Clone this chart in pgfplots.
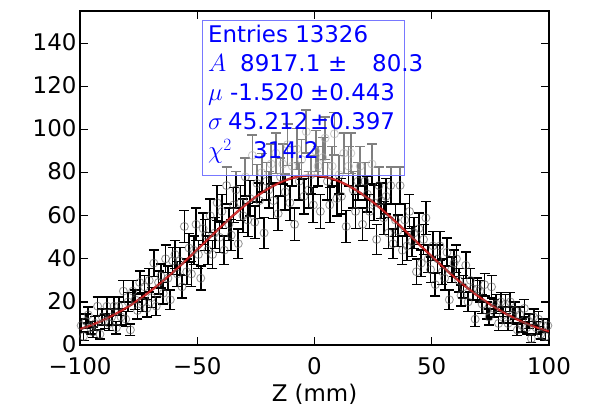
\documentclass[border=0pt]{standalone}
\usepackage{pgfplots}
\pgfplotsset{compat=1.18}
\usepackage{fontspec}
\setmainfont{DejaVu Sans}
\definecolor{boxblue}{RGB}{120,120,255}
\definecolor{txtblue}{RGB}{0,0,255}
\definecolor{fitred}{RGB}{170,0,0}
\definecolor{mkgrey}{RGB}{90,90,90}
\pgfplotstableread{
x y e
-99.5 9 3.00
-98.5 4 2.00
-97.5 11 3.32
-96.5 14 3.74
-95.5 8 2.83
-94.5 6 2.45
-93.5 10 3.16
-92.5 18 4.24
-91.5 5 2.24
-90.5 13 3.61
-89.5 11 3.32
-88.5 18 4.24
-87.5 10 3.16
-86.5 13 3.61
-85.5 18 4.24
-84.5 8 2.83
-83.5 18 4.24
-82.5 13 3.61
-81.5 25 5.00
-80.5 12 3.46
-79.5 20 4.47
-78.5 7 2.65
-77.5 25 5.00
-76.5 21 4.58
-75.5 16 4.00
-74.5 29 5.39
-73.5 20 4.47
-72.5 27 5.20
-71.5 17 4.12
-70.5 30 5.48
-69.5 22 4.69
-68.5 38 6.16
-67.5 18 4.24
-66.5 29 5.39
-65.5 32 5.66
-64.5 24 4.90
-63.5 40 6.32
-62.5 31 5.57
-61.5 21 4.58
-60.5 39 6.24
-59.5 42 6.48
-58.5 33 5.74
-57.5 39 6.24
-56.5 27 5.20
-55.5 55 7.42
-54.5 34 5.83
-53.5 45 6.71
-52.5 33 5.74
-51.5 44 6.63
-50.5 56 7.48
-49.5 42 6.48
-48.5 31 5.57
-47.5 54 7.35
-46.5 51 7.14
-45.5 44 6.63
-44.5 60 7.75
-43.5 42 6.48
-42.5 52 7.21
-41.5 66 8.12
-40.5 50 7.07
-39.5 62 7.87
-38.5 44 6.63
-37.5 74 8.60
-36.5 56 7.48
-35.5 51 7.14
-34.5 65 8.06
-33.5 72 8.49
-32.5 47 6.86
-31.5 66 8.12
-30.5 60 7.75
-29.5 78 8.83
-28.5 58 7.62
-27.5 68 8.25
-26.5 88 9.38
-25.5 57 7.55
-24.5 75 8.66
-23.5 67 8.19
-22.5 80 8.94
-21.5 52 7.21
-20.5 76 8.72
-19.5 72 8.49
-18.5 84 9.17
-17.5 67 8.19
-16.5 89 9.43
-15.5 61 7.81
-14.5 78 8.83
-13.5 84 9.17
-12.5 71 8.43
-11.5 93 9.64
-10.5 66 8.12
-9.5 83 9.11
-8.5 56 7.48
-7.5 91 9.54
-6.5 76 8.72
-5.5 86 9.27
-4.5 69 8.31
-3.5 99 9.95
-2.5 72 8.49
-1.5 79 8.89
-0.5 65 8.06
0.5 90 9.49
1.5 83 9.11
2.5 62 7.87
3.5 87 9.33
4.5 96 9.80
5.5 76 8.72
6.5 65 8.06
7.5 83 9.11
8.5 98 9.90
9.5 68 8.25
10.5 79 8.89
11.5 69 8.31
12.5 89 9.43
13.5 55 7.42
14.5 83 9.11
15.5 89 9.43
16.5 72 8.49
17.5 62 7.87
18.5 76 8.72
19.5 83 9.11
20.5 56 7.48
21.5 76 8.72
22.5 70 8.37
23.5 62 7.87
24.5 84 9.17
25.5 66 8.12
26.5 49 7.00
27.5 74 8.60
28.5 67 8.19
29.5 59 7.68
30.5 69 8.31
31.5 52 7.21
32.5 74 8.60
33.5 47 6.86
34.5 58 7.62
35.5 53 7.28
36.5 74 8.60
37.5 44 6.63
38.5 58 7.62
39.5 46 6.78
40.5 62 7.87
41.5 48 6.93
42.5 52 7.21
43.5 34 5.83
44.5 54 7.35
45.5 38 6.16
46.5 49 7.00
47.5 59 7.68
48.5 40 6.32
49.5 35 5.92
50.5 46 6.78
51.5 28 5.29
52.5 40 6.32
53.5 46 6.78
54.5 34 5.83
55.5 31 5.57
56.5 43 6.56
57.5 21 4.58
58.5 35 5.92
59.5 38 6.16
60.5 40 6.32
61.5 30 5.48
62.5 23 4.80
63.5 27 5.20
64.5 37 6.08
65.5 20 4.47
66.5 30 5.48
67.5 26 5.10
68.5 12 3.46
69.5 26 5.10
70.5 25 5.00
71.5 19 4.36
72.5 28 5.29
73.5 16 4.00
74.5 13 3.61
75.5 27 5.20
76.5 17 4.12
77.5 19 4.36
78.5 10 3.16
79.5 20 4.47
80.5 14 3.74
81.5 19 4.36
82.5 10 3.16
83.5 20 4.47
84.5 14 3.74
85.5 16 4.00
86.5 7 2.65
87.5 14 3.74
88.5 9 3.00
89.5 17 4.12
90.5 8 2.83
91.5 11 3.32
92.5 3 1.73
93.5 13 3.61
94.5 8 2.83
95.5 12 3.46
96.5 5 2.24
97.5 9 3.00
98.5 4 2.00
99.5 9 3.00
}\datatable
\pgfplotstableread{
x f
-100 7.34
-95 9.28
-90 11.60
-85 14.31
-80 17.44
-75 21.00
-70 24.99
-65 29.36
-60 34.08
-55 39.09
-50 44.28
-45 49.55
-40 54.77
-35 59.81
-30 64.52
-25 68.75
-20 72.37
-15 75.26
-10 77.31
-5 78.45
0 78.64
5 77.87
10 76.17
15 73.60
20 70.25
25 66.24
30 61.71
35 56.78
40 51.61
45 46.34
50 41.11
55 36.02
60 31.18
65 26.66
70 22.52
75 18.79
80 15.49
85 12.61
90 10.14
95 8.06
100 6.32
}\fittable
\begin{document}
\begin{tikzpicture}
\begin{axis}[name=ax, scale only axis, width=469bp, height=334bp,
  xmin=-100, xmax=100, ymin=0, ymax=155,
  xtick={-100,-50,0,50,100}, xticklabels={−100,−50,0,50,100},
  ytick={0,20,40,60,80,100,120,140}, yticklabels={0,20,40,60,80,100,120,140},
  tick align=inside, major tick length=8bp,
  major tick style={black, line width=1.2bp},
  axis line style={black, line width=1.8bp},
  ticklabel style={font=\fontsize{23}{23}\selectfont},
  xticklabel style={yshift=-9bp},
  yticklabel style={yshift=1bp},
  xlabel={Z (mm)}, xlabel style={font=\fontsize{23}{23}\selectfont, yshift=-2bp},
  clip=true]
\addplot[only marks, mark=o, mark size=4bp,
  mark options={draw=mkgrey, draw opacity=0.6, line width=0.9bp},
  error bars/.cd, y dir=both, y explicit,
  error bar style={black, line width=1.7bp},
  error mark options={black, mark size=5bp, line width=1.5bp, rotate=90}]
  table[x=x, y=y, y error=e]{\datatable};
\addplot[fitred, line width=2.4bp, opacity=0.85, smooth] table[x=x, y=f]{\fittable};
\addplot[red!70, line width=0.8bp, opacity=0.6, smooth] table[x=x, y=f]{\fittable};
\end{axis}
\fill[white, fill opacity=0.5] ([shift={(122bp,-10bp)}]ax.north west) rectangle ([shift={(324bp,-164bp)}]ax.north west);
\draw[boxblue, line width=1bp] ([shift={(122bp,-10bp)}]ax.north west) rectangle ([shift={(324bp,-164bp)}]ax.north west);
\begin{scope}[every node/.style={anchor=base west, inner sep=0pt, text=txtblue, font=\fontsize{23}{23}\selectfont}]
\node at ([shift={(128bp,-32bp)}]ax.north west) {Entries 13326};
\node at ([shift={(128bp,-61bp)}]ax.north west) {$A$};
\node at ([shift={(160bp,-61bp)}]ax.north west) {8917.1};
\node at ([shift={(248bp,-61bp)}]ax.north west) {±};
\node at ([shift={(292bp,-61bp)}]ax.north west) {80.3};
\node at ([shift={(128bp,-90bp)}]ax.north west) {$\mu$};
\node at ([shift={(150bp,-90bp)}]ax.north west) {-1.520};
\node at ([shift={(230bp,-90bp)}]ax.north west) {±0.443};
\node at ([shift={(128bp,-119bp)}]ax.north west) {$\sigma$};
\node at ([shift={(148bp,-119bp)}]ax.north west) {45.212};
\node at ([shift={(230bp,-119bp)}]ax.north west) {±0.397};
\node at ([shift={(128bp,-148bp)}]ax.north west) {$\chi^2$};
\node at ([shift={(173bp,-148bp)}]ax.north west) {314.2};
\end{scope}
\path ([shift={(-80bp,-395bp)}]ax.north west) rectangle ++(595bp,406bp);
\end{tikzpicture}
\end{document}
